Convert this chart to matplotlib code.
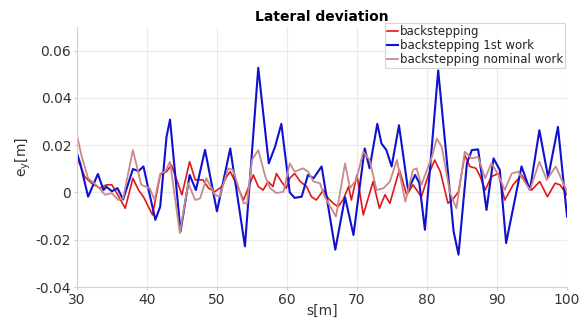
import matplotlib
matplotlib.use("Agg")
import matplotlib.pyplot as plt

# backstepping 1st work (blue)
s_blue = [30, 30.5, 31.6, 33.0, 33.8, 34.2, 35.0, 35.8, 36.6, 38.0, 38.8, 39.5, 41.2, 41.9, 42.8, 43.3,
          44.8, 46.1, 47.0, 48.3, 50.0, 51.9, 54.0, 55.9, 57.4, 58.3, 59.2, 60.4, 61.1, 62.1, 63.0, 63.8,
          64.95, 66.9, 68.3, 69.5, 71.1, 71.8, 72.9, 73.5, 74.2, 74.95, 76.0, 77.3, 78.3, 78.9, 79.7, 81.6,
          83.8, 84.5, 85.7, 86.4, 87.3, 88.5, 89.5, 90.4, 91.3, 93.5, 94.7, 96.05, 97.3, 98.7, 100]
e_blue = [0.0166, 0.012, -0.0018, 0.0078, 0.001, 0.0024, 0.0005, 0.0018, -0.003, 0.0099, 0.009, 0.011, -0.0116, -0.006, 0.0235, 0.0308,
          -0.0165, 0.0074, 0.001, 0.018, -0.008, 0.0186, -0.0228, 0.0527, 0.0123, 0.0193, 0.029, 0.0, -0.0023, -0.0018, 0.0074, 0.006,
          0.011, -0.0242, -0.002, -0.018, 0.0186, 0.0102, 0.029, 0.0207, 0.0179, 0.011, 0.0284, 0.001, 0.0074, 0.004, -0.0158, 0.0516,
          -0.0165, -0.0263, 0.0123, 0.0179, 0.0182, -0.0074, 0.0144, 0.0095, -0.0214, 0.011, 0.001, 0.0263, 0.0064, 0.0277, -0.0102]

# backstepping (red)
s_red = [30, 31.1, 32.1, 33.3, 34.2, 35.0, 35.7, 36.9, 38.0, 38.8, 39.5, 40.8, 41.9, 42.8, 43.5, 45.0, 46.1,
         46.9, 48.0, 48.8, 49.7, 50.7, 51.4, 51.9, 52.6, 53.8, 55.2, 55.9, 56.6, 57.3, 58.0, 58.5, 59.2, 59.9,
         60.4, 61.1, 61.9, 62.8, 63.5, 64.2, 65.2, 65.9, 66.6, 67.3, 68.0, 68.8, 69.2, 70.0, 70.9, 72.3, 73.2,
         74.0, 74.7, 76.05, 77.1, 78.0, 79.2, 80.2, 81.1, 81.9, 83.0, 83.8, 84.5, 85.4, 86.1, 87.0, 87.6, 88.3,
         89.2, 90.2, 91.1, 92.3, 93.5, 94.95, 96.1, 97.2, 98.3, 99.0, 100]
e_red = [0.015, 0.0067, 0.0039, 0.0018, 0.0032, 0.0032, -0.0003, -0.0067, 0.006, 0.001, -0.0018, -0.0095, 0.0074, 0.0088, 0.0116, -0.001, 0.013,
         0.0053, 0.0053, 0.0018, 0.0003, 0.0025, 0.0067, 0.0088, 0.0046, -0.0032, 0.0074, 0.0025, 0.001, 0.0046, 0.0025, 0.008, 0.0046, 0.0018,
         0.006, 0.008, 0.0046, 0.0025, -0.0018, -0.0032, 0.001, -0.0025, -0.0046, -0.006, -0.0032, 0.0025, -0.0032, 0.0074, -0.0095, 0.0046, -0.0067,
         -0.001, -0.0046, 0.0095, -0.001, 0.0032, -0.0018, 0.0074, 0.0137, 0.0088, -0.0046, -0.0025, 0.0003, 0.0158, 0.011, 0.0102, 0.0067, 0.001,
         0.0067, 0.008, -0.0032, 0.0032, 0.0074, 0.001, 0.0046, -0.0018, 0.0039, 0.0032, -0.001]

# backstepping nominal work (pink)
s_pink = [30, 30.7, 31.6, 33.0, 34.0, 35.0, 35.9, 36.6, 38.0, 39.2, 40.4, 41.1, 41.9, 42.6, 43.3, 44.7, 45.9,
          46.9, 47.6, 48.5, 49.7, 50.4, 51.6, 52.3, 53.8, 54.3, 55.0, 55.9, 56.9, 57.6, 58.5, 59.5, 60.4, 61.1,
          62.3, 63.0, 63.8, 64.7, 65.4, 66.6, 67.0, 68.3, 69.0, 69.9, 70.9, 71.8, 72.8, 73.8, 74.7, 75.7, 76.9,
          78.0, 78.5, 79.2, 80.7, 81.4, 82.1, 83.3, 84.2, 85.4, 86.4, 87.3, 88.3, 89.2, 90.2, 91.1, 92.1, 93.0,
          94.7, 96.05, 97.1, 98.4, 100]
e_pink = [0.0242, 0.015, 0.006, 0.0025, -0.001, -0.0003, -0.0032, -0.0025, 0.0179, 0.0032, 0.0018, -0.0032, 0.008, 0.0088, 0.013, -0.0172, 0.0039,
          -0.0032, -0.0025, 0.006, -0.001, -0.0018, 0.0102, 0.0095, -0.0046, -0.0046, 0.0137, 0.0179, 0.0067, 0.0018, -0.0003, 0.0003, 0.0123, 0.0088,
          0.0102, 0.0088, 0.0046, 0.0039, -0.0018, -0.0081, -0.0102, 0.0123, 0.0018, 0.0053, 0.0172, 0.0137, 0.001, 0.0018, 0.0046, 0.0137, -0.0039,
          0.0095, 0.0102, 0.0032, 0.015, 0.0228, 0.0193, -0.0003, -0.0067, 0.0172, 0.0144, 0.015, 0.006, 0.0123, 0.0075, 0.001, 0.008, 0.0088,
          0.001, 0.013, 0.0053, 0.011, 0.0003]

labels = ["backstepping", "backstepping 1st work", "backstepping nominal work"]
x_ticks = [30, 40, 50, 60, 70, 80, 90, 100]
y_ticks = [-0.04, -0.02, 0, 0.02, 0.04, 0.06]
y_tick_labels = ["-0.04", "-0.02", "0", "0.02", "0.04", "0.06"]

fig = plt.figure(figsize=(5.87, 3.2), dpi=100)
ax = fig.add_axes([0.131, 0.103, 0.835, 0.813])

ax.plot(s_red, e_red, color="#e01818", lw=1.2, label=labels[0], solid_joinstyle="round")
ax.plot(s_blue, e_blue, color="#1010d0", lw=1.5, label=labels[1], solid_joinstyle="round")
ax.plot(s_pink, e_pink, color="#c88a8a", lw=1.3, label=labels[2], solid_joinstyle="round")

ax.set_xlim(30, 100)
ax.set_ylim(-0.04, 0.07)
ax.set_xticks(x_ticks)
ax.set_yticks(y_ticks)
ax.set_yticklabels(y_tick_labels)
ax.grid(True, color="#ebebeb", lw=0.8)
ax.set_axisbelow(True)
for sp in ["top", "right"]:
    ax.spines[sp].set_visible(False)
for sp in ["left", "bottom"]:
    ax.spines[sp].set_color("#d0d0d0")
ax.tick_params(axis="both", labelsize=10, colors="#d0d0d0", labelcolor="#333333", length=2, pad=2)

ax.set_title("Lateral deviation", fontsize=10, fontweight="bold", pad=4)
ax.set_xlabel("s[m]", fontsize=10, color="#333333", labelpad=-2)
ax.set_ylabel("e$_\\mathregular{y}$[m]", fontsize=10, color="#333333", labelpad=2)

leg = ax.legend(loc="upper right", bbox_to_anchor=(0.995, 1.015), fontsize=8.5, handlelength=1.0,
                handletextpad=0.1, borderpad=0.15, labelspacing=0.1, frameon=True, fancybox=False,
                borderaxespad=0)
leg.get_frame().set_edgecolor("#cccccc")
leg.get_frame().set_linewidth(0.8)
for t in leg.get_texts():
    t.set_color("#222222")

fig.savefig("out.png", dpi=100)
